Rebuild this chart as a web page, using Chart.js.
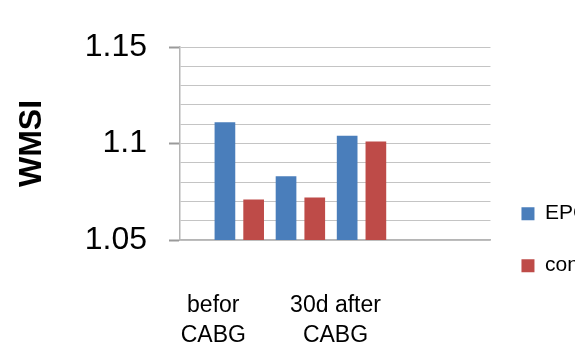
<!DOCTYPE html>
<html>
<head>
<meta charset="utf-8">
<script src="https://cdn.jsdelivr.net/npm/chart.js@4"></script>
<style>
  html, body { margin: 0; padding: 0; background: #fff; overflow: hidden; }
</style>
</head>
<body>
<!-- canvas is wider than the window so the legend text gets cut at the edge like the reference -->
<canvas id="chart" width="618" height="358"></canvas>
<script>
// middle category label is not shown in the reference (Excel skipped it)
const categories = ["befor CABG", null, "30d after CABG"];
const seriesNames = ["EPC", "control"];
const epcValues = [1.111, 1.083, 1.104];
const controlValues = [1.071, 1.072, 1.101];
const yTickLabels = [1.05, 1.1, 1.15];
const yGridLines = [1.05, 1.06, 1.07, 1.08, 1.09, 1.1, 1.11, 1.12, 1.13, 1.14, 1.15];

const FONT = "'Liberation Sans', Arial, sans-serif";
const isLabelled = (v) => yTickLabels.some((t) => Math.abs(t - v) < 1e-6);

const ctx = document.getElementById("chart").getContext("2d");
new Chart(ctx, {
  type: "bar",
  data: {
    datasets: [
      {
        label: seriesNames[0],
        data: epcValues.map((v, i) => ({ x: i, y: v })),
        backgroundColor: "#4a7ebb",
        borderWidth: 0,
      },
      {
        label: seriesNames[1],
        data: controlValues.map((v, i) => ({ x: i, y: v })),
        backgroundColor: "#be4b48",
        borderWidth: 0,
      },
    ],
  },
  options: {
    responsive: false,
    animation: false,
    categoryPercentage: 0.94,
    barPercentage: 0.72,
    layout: { padding: { top: 47, left: 0, right: 0, bottom: 0 } },
    scales: {
      x: {
        type: "linear",
        min: -0.97,
        max: 4.11,
        offset: false,
        grid: { display: false, drawTicks: false },
        border: { display: true, color: "#b5b5b5", width: 1.5 },
        afterBuildTicks: (scale) => { scale.ticks = categories.map((c, i) => ({ value: i })); },
        afterFit: (scale) => { scale.height = 118; },
        ticks: {
          autoSkip: false,
          maxRotation: 0,
          padding: 51,
          labelOffset: -26,
          color: "#000",
          font: { family: FONT, size: 23, lineHeight: 1.3 },
          callback: (value) => {
            const label = categories[value];
            if (!label) return "";
            const cut = label.lastIndexOf(" ");
            return [label.slice(0, cut), label.slice(cut + 1)];
          },
        },
      },
      y: {
        min: 1.05,
        max: 1.15,
        afterBuildTicks: (scale) => { scale.ticks = yGridLines.map((v) => ({ value: v })); },
        afterFit: (scale) => { scale.width = 180; },
        grid: {
          color: "#c4c4c4",
          lineWidth: 1,
          tickLength: 11,
          tickWidth: 2,
          tickColor: (c) => (isLabelled(c.tick.value) ? "#9a9a9a" : "rgba(0,0,0,0)"),
        },
        border: { display: true, color: "#b5b5b5", width: 1.5 },
        ticks: {
          autoSkip: false,
          padding: 22,
          color: "#000",
          font: { family: FONT, size: 32 },
          callback: (value) => {
            const hit = yTickLabels.find((t) => Math.abs(t - value) < 1e-6);
            return hit === undefined ? "" : String(hit);
          },
        },
        title: {
          display: true,
          text: "WMSI",
          color: "#000",
          padding: { top: 13, bottom: 36 },
          font: { family: FONT, size: 32, weight: "bold" },
        },
      },
    },
    plugins: {
      tooltip: { enabled: false },
      legend: {
        position: "right",
        align: "start",
        // empty title only pushes the legend items down
        title: { display: true, text: "", padding: { top: 124, bottom: 0 }, font: { size: 1 } },
        labels: {
          boxWidth: 13,
          boxHeight: 13,
          padding: 31,
          color: "#000",
          font: { family: FONT, size: 21 },
        },
      },
    },
  },
});
</script>
</body>
</html>
